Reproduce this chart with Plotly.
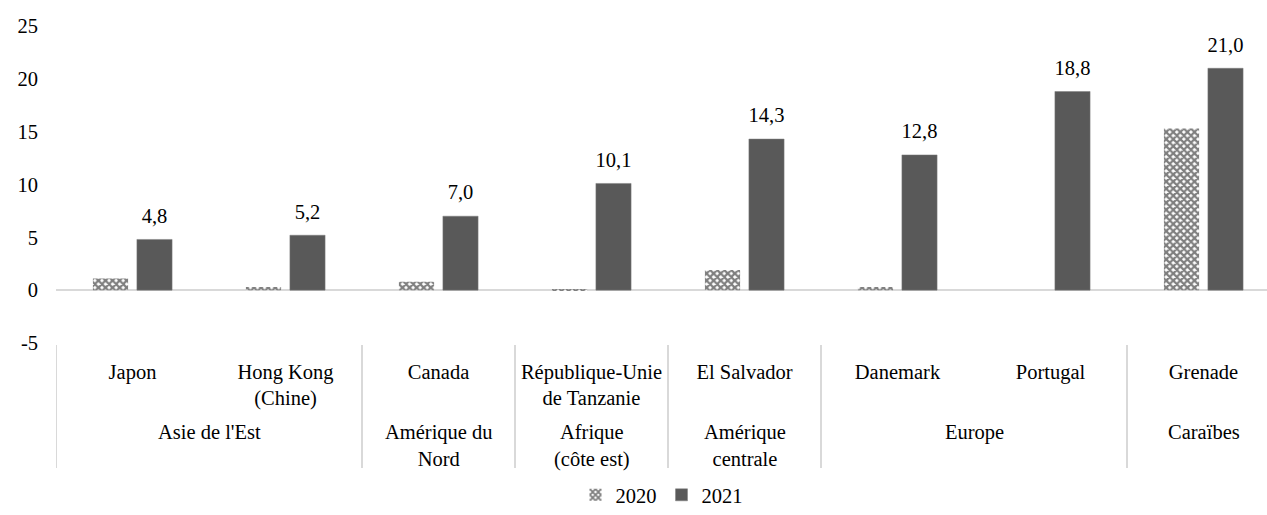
import plotly.graph_objects as go

regions = ["Asie de l'Est", "Asie de l'Est", "Amérique du<br>Nord", "Afrique<br>(côte est)",
           "Amérique<br>centrale", "Europe", "Europe", "Caraïbes"]
countries = ["Japon", "Hong Kong<br>(Chine)", "Canada", "République-Unie<br>de Tanzanie",
             "El Salvador", "Danemark", "Portugal", "Grenade"]
values_2020 = [1.1, 0.3, 0.8, 0.1, 1.9, 0.3, None, 15.3]
values_2021 = [4.8, 5.2, 7.0, 10.1, 14.3, 12.8, 18.8, 21.0]
y_ticks = [-5, 0, 5, 10, 15, 20, 25]
y_ticktext = ["-5", "0", "5", "10", "15", "20", "25"]

FONT = "Times New Roman, Liberation Serif, Tinos, DejaVu Serif, serif"
FS = 20.5

PLOT_BOTTOM_PX = 348
PLOT_H_PX = 322


def py(px):
    """pixel row -> paper y"""
    return (PLOT_BOTTOM_PX - px) / PLOT_H_PX


fig = go.Figure()
fig.add_trace(go.Bar(
    name="2020", x=countries, y=values_2020,
    marker=dict(color="white",
                pattern=dict(shape="x", fgcolor="black", bgcolor="white", size=5, solidity=0.7),
                line=dict(width=0)),
))
fig.add_trace(go.Bar(
    name="2021", x=countries, y=values_2021,
    marker=dict(color="#595959", line=dict(color="#7f7f7f", width=0.5)),
    texttemplate="<span style='font-size:20.5px'>%{y:.1f}</span><br> ",
    textposition="outside", cliponaxis=False, constraintext="none",
    textfont=dict(family=FONT, size=9, color="black"),
))

# group (region) labels and dividers
groups = []
for i, r in enumerate(regions):
    if groups and groups[-1][0] == r:
        groups[-1][2] = i
    else:
        groups.append([r, i, i])

for r, i0, i1 in groups:
    fig.add_annotation(x=(i0 + i1) / 2, xref="x", y=py(425), yref="paper",
                       yanchor="top", xanchor="center", text=r, showarrow=False,
                       font=dict(family=FONT, size=FS, color="black"))
    fig.add_shape(type="line", xref="x", yref="paper", x0=i0 - 0.5, x1=i0 - 0.5,
                  y0=py(350), y1=py(475), line=dict(color="#d9d9d9", width=2))
fig.add_shape(type="line", xref="x", yref="paper", x0=len(regions) - 0.5, x1=len(regions) - 0.5,
              y0=py(350), y1=py(475), line=dict(color="#d9d9d9", width=2))

fig.update_layout(
    width=1267, height=515,
    margin=dict(l=56, r=0, t=26, b=167),
    paper_bgcolor="white", plot_bgcolor="white",
    separators=",.",
    font=dict(family=FONT, size=FS, color="black"),
    barmode="group", bargap=0.425, bargroupgap=0.2,
    showlegend=True,
    legend=dict(orientation="h", x=0.5, xanchor="center", y=py(503), yanchor="middle",
                font=dict(family=FONT, size=FS, color="black"), itemwidth=30,
                traceorder="normal"),
    xaxis=dict(type="category", range=[-0.5, 7.415], showgrid=False, showline=False,
               zeroline=False, ticks="", ticklabelstandoff=14,
               tickfont=dict(family=FONT, size=FS, color="black"), automargin=False),
    yaxis=dict(range=[-5, 25], tickvals=y_ticks, ticktext=y_ticktext, showgrid=False,
               showline=False, zeroline=True, zerolinecolor="#d9d9d9", zerolinewidth=2,
               ticks="", ticklabelstandoff=17,
               tickfont=dict(family=FONT, size=FS, color="black"), automargin=False),
)

fig.write_html("out.html")
